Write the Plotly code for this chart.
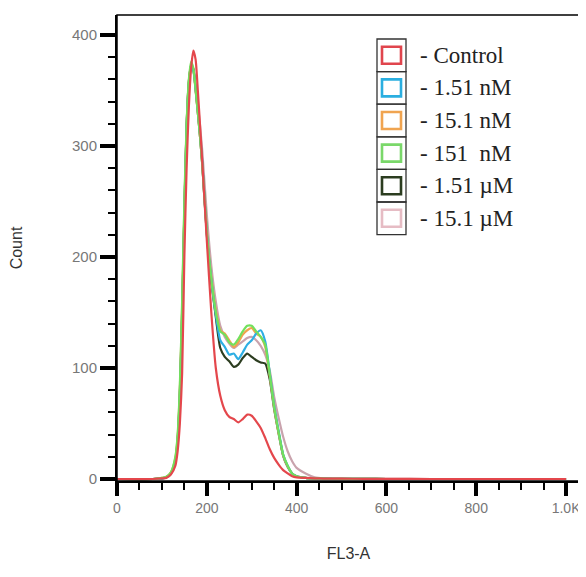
import plotly.graph_objects as go

# FL3-A channel values (x) shared by every histogram
fl3 = [0, 80, 100, 110, 120, 130, 135, 140, 145, 150,
       155, 160, 165, 170, 175, 180, 185, 190,
       200, 210, 220, 230, 240, 250, 260, 270, 280, 290, 300,
       310, 320, 330, 340, 350, 360, 370, 380, 390, 400,
       420, 440, 460, 500, 550, 600, 700, 800, 1000]

control = [0, 0, 0.5, 1, 4, 12, 25, 50, 95, 200,
           280, 335, 370, 386, 378, 350, 318, 285,
           215, 150, 100, 75, 62, 56, 54, 51, 54, 58, 57,
           52, 46, 37, 27, 19, 13, 8, 5, 2.5, 1.5,
           1, 0.6, 0.4, 0.3, 0.2, 0.1, 0, 0, 0]

nm1_51 = [0, 0, 0.5, 1.5, 5, 16, 34, 75, 145, 238,
          316, 356, 370, 368, 352, 332, 310, 285,
          222, 180, 148, 125, 119, 112, 113, 108, 114, 121, 125,
          131, 134, 124, 96, 66, 43, 22, 12, 5, 2.5,
          1, 0.5, 0.3, 0.2, 0.1, 0, 0, 0, 0]

nm15_1 = [0, 0, 1, 2, 6, 19, 38, 82, 155, 245,
          318, 358, 372, 368, 350, 330, 308, 283,
          224, 182, 152, 134, 131, 125, 119, 123, 130, 134, 136,
          131, 128, 119, 93, 64, 41, 21, 11, 5, 2.5,
          1, 0.5, 0.3, 0.2, 0.1, 0, 0, 0, 0]

nm151 = [0, 0, 1, 2, 6, 20, 40, 85, 160, 250,
         320, 360, 376, 370, 352, 330, 308, 282,
         222, 180, 150, 133, 130, 123, 121, 126, 133, 138, 138,
         133, 128, 121, 95, 65, 42, 22, 12, 5, 2.5,
         1, 0.5, 0.3, 0.2, 0.1, 0, 0, 0, 0]

um1_51 = [0, 0, 0.5, 1.5, 5, 17, 36, 78, 150, 240,
          318, 358, 373, 369, 351, 330, 308, 283,
          220, 178, 146, 118, 110, 106, 101, 103, 109, 113, 110,
          107, 105, 104, 90, 63, 41, 21, 11, 5, 2.5,
          1, 0.5, 0.3, 0.2, 0.1, 0, 0, 0, 0]

um15_1 = [0, 0, 0.5, 1.5, 5, 16, 34, 75, 145, 238,
          316, 356, 372, 370, 355, 338, 318, 295,
          238, 192, 160, 138, 128, 122, 118, 121, 124, 127, 128,
          125, 120, 112, 98, 74, 55, 38, 25, 16, 10,
          5, 1.5, 0.5, 0.3, 0.2, 0.1, 0, 0, 0]

labels = ["- Control", "- 1.51 nM", "- 15.1 nM", "- 151  nM", "- 1.51 µM", "- 15.1 µM"]
series = [control, nm1_51, nm15_1, nm151, um1_51, um15_1]
line_colors = ["#e4474c", "#2eaee3", "#f2a24e", "#72e05c", "#2c3d20", "#c9a3ad"]
box_colors = ["#e0454d", "#2aaee0", "#f0a450", "#7ad86a", "#2c3d20", "#e6bcc4"]

x_ticks = [0, 200, 400, 600, 800, 1000]
x_ticktext = ["0", "200", "400", "600", "800", "1.0K"]
y_ticks = [0, 100, 200, 300, 400]

fig = go.Figure()

# draw order: pink, dark, orange, blue, green, red on top
for i in [5, 4, 2, 1, 3, 0]:
    fig.add_trace(go.Scatter(
        x=fl3, y=series[i], mode="lines", name=labels[i],
        line=dict(color=line_colors[i], width=2.2, shape="spline", smoothing=0.6),
        showlegend=False,
    ))

# plot area in reference pixels: x 117..580, y 15..481
def px_x(p):
    return (p - 117) / 463

def px_y(p):
    return (481 - p) / 466

shapes = [dict(type="rect", xref="paper", yref="paper", x0=0, x1=1, y0=0, y1=1,
               line=dict(color="black", width=1.5))]
annotations = []
cell_h = 32.6
top = 39
for i, lab in enumerate(labels):
    y0 = top + cell_h * i
    y1 = y0 + cell_h
    yc = (y0 + y1) / 2
    shapes.append(dict(type="rect", xref="paper", yref="paper",
                       x0=px_x(377), x1=px_x(406), y0=px_y(y1), y1=px_y(y0),
                       line=dict(color="#333", width=1.3)))
    shapes.append(dict(type="rect", xref="paper", yref="paper",
                       x0=px_x(382), x1=px_x(401), y0=px_y(yc + 8.5), y1=px_y(yc - 8.5),
                       line=dict(color=box_colors[i], width=2.6)))
    annotations.append(dict(x=px_x(418), y=px_y(yc), xref="paper", yref="paper",
                            text=lab, showarrow=False, xanchor="left", yanchor="middle",
                            font=dict(family="Liberation Serif", size=23, color="#222")))

# page body adds an 8px offset, margins compensate for it
fig.update_layout(
    width=586, height=577,
    margin=dict(l=109, r=14, t=7, b=104),
    plot_bgcolor="white", paper_bgcolor="white",
    font=dict(family="Liberation Sans", size=15, color="#777"),
    shapes=shapes, annotations=annotations,
    showlegend=False,
)

fig.update_xaxes(
    range=[0, 1031], tickvals=x_ticks, ticktext=x_ticktext, automargin=False,
    tickfont=dict(size=14),
    showgrid=False, zeroline=False, showline=True, linecolor="black", linewidth=2,
    ticks="outside", ticklen=13, tickwidth=4, tickcolor="black",
    minor=dict(dtick=50, ticks="outside", ticklen=7, tickwidth=1.5, tickcolor="black"),
    title=dict(text="FL3-A", font=dict(size=16, color="#333"), standoff=33),
)
fig.update_yaxes(
    range=[-1.8, 418], tickvals=y_ticks, automargin=False,
    showgrid=False, zeroline=False, showline=True, linecolor="black", linewidth=2,
    ticks="outside", ticklen=15, tickwidth=4, tickcolor="black",
    minor=dict(dtick=20, ticks="outside", ticklen=7, tickwidth=1.5, tickcolor="black"),
    title=dict(text="Count", font=dict(size=16, color="#333"), standoff=48),
)

fig.write_html("out.html")
